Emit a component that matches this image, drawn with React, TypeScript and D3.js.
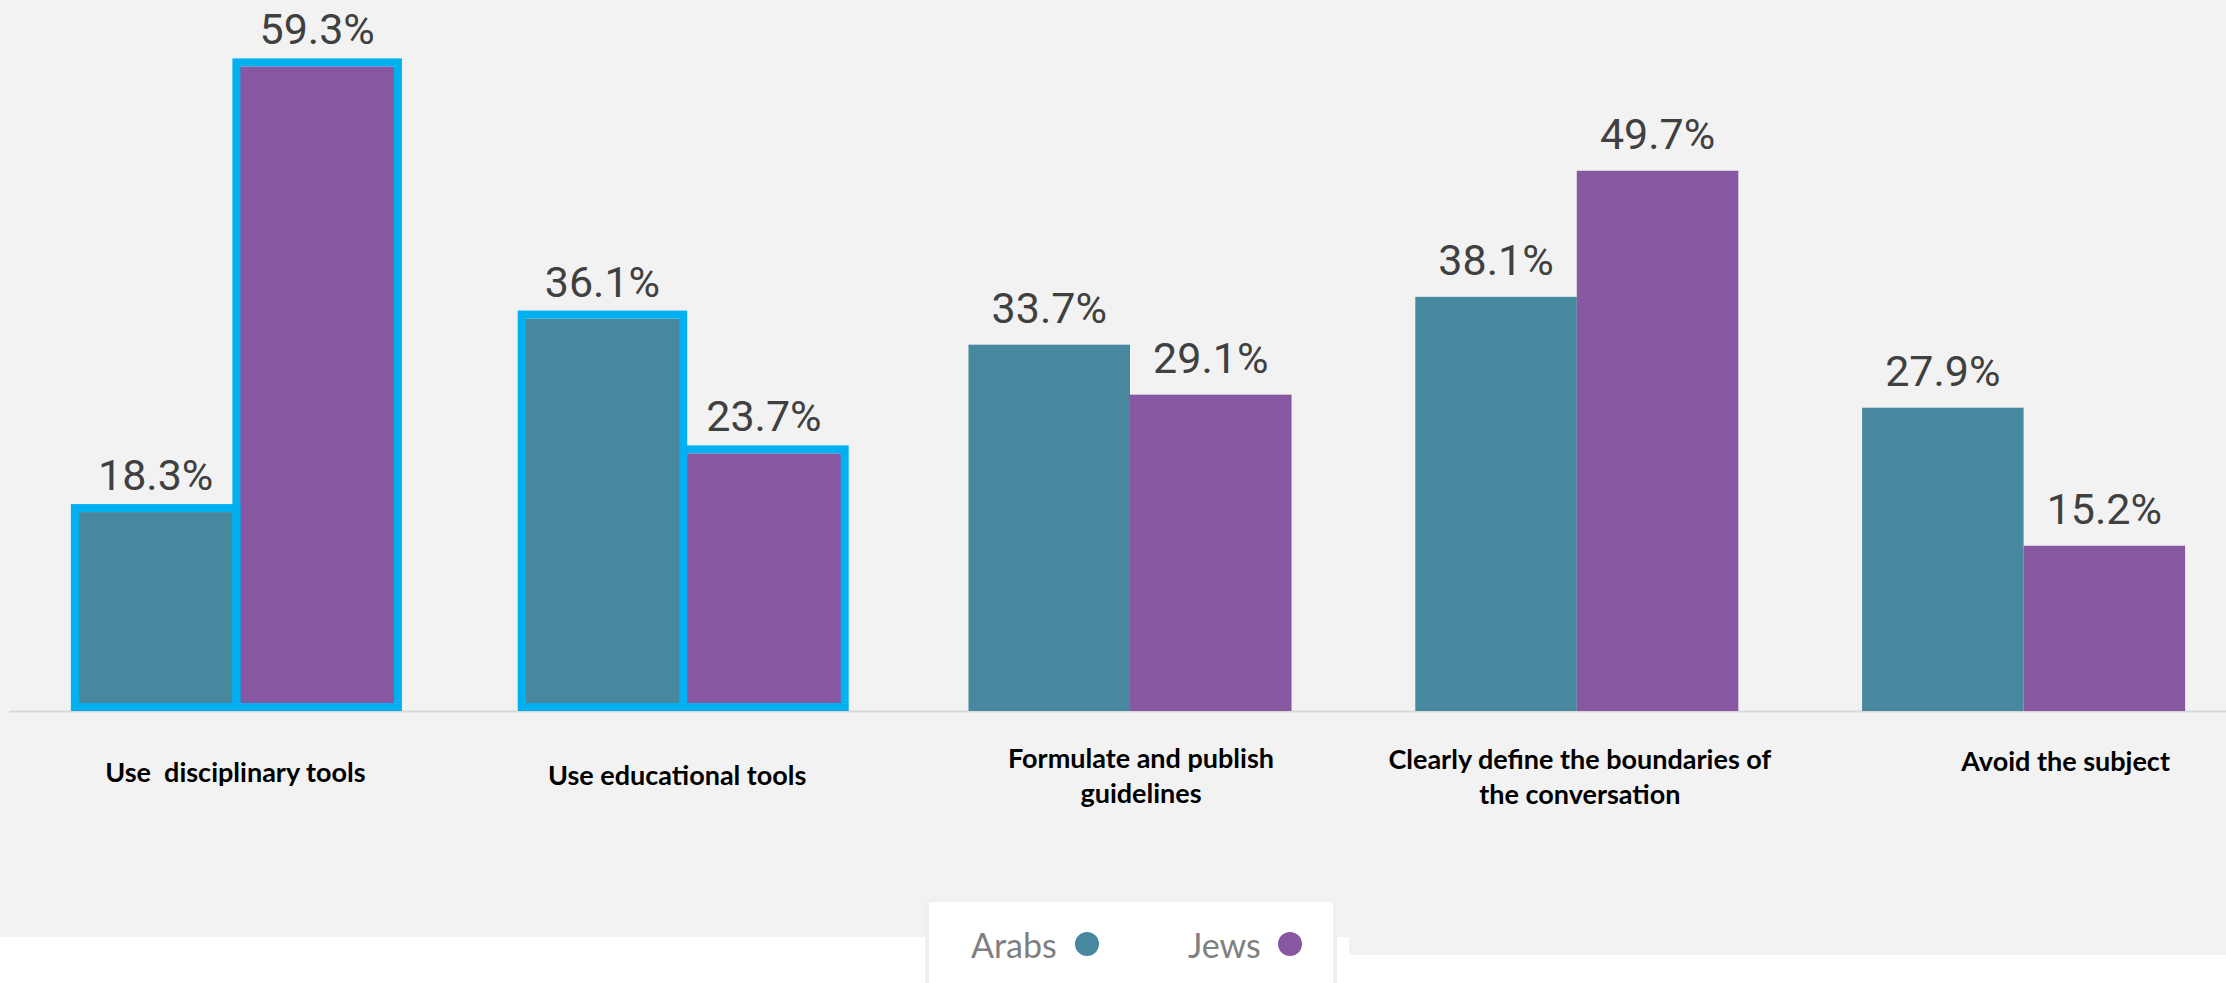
import React from "react";
import * as d3 from "d3";

const categories = [
  "Use  disciplinary tools",
  "Use educational tools",
  "Formulate and publish guidelines",
  "Clearly define the boundaries of the conversation",
  "Avoid the subject",
];
const categoryLines = [
  ["Use  disciplinary tools"],
  ["Use educational tools"],
  ["Formulate and publish", "guidelines"],
  ["Clearly define the boundaries of", "the conversation"],
  ["Avoid the subject"],
];
const seriesNames = ["Arabs", "Jews"];
const arabs = [18.3, 36.1, 33.7, 38.1, 27.9];
const jews = [59.3, 23.7, 29.1, 49.7, 15.2];
const highlighted = [true, true, false, false, false];

const W = 2226;
const H = 983;
const BASE = 711;
const COLORS = ["#47889f", "#8757a1"];
const HILITE = "#00b0f0";
const labelDx = [-1, -6, 11, 3, 42];
const labelBase = [782, 785, 768, 769, 771];

export default function App() {
  const x0 = d3
    .scaleBand<string>()
    .domain(categories)
    .range([13, 2247])
    .paddingInner(0.277)
    .paddingOuter(0.1385);
  const x1 = d3
    .scaleBand<string>()
    .domain(seriesNames)
    .range([0, x0.bandwidth()])
    .padding(0);
  const y = d3.scaleLinear().domain([0, 60]).range([BASE, BASE - 60 * 10.87]);
  const series = [arabs, jews];

  return (
    <div style={{ position: "absolute", left: 0, top: 0 }}>
      <svg width={W} height={H} style={{ display: "block" }}>
        <rect x={0} y={0} width={W} height={H} fill="#ffffff" />
        <rect x={0} y={0} width={1349} height={937} fill="#f2f2f2" />
        <rect x={1349} y={0} width={W - 1349} height={955} fill="#f2f2f2" />
        <line x1={9} x2={W} y1={BASE + 0.5} y2={BASE + 0.5} stroke="#d9d9d9" strokeWidth={2} />
        {categories.map((c, i) => (
          <g key={c} transform={`translate(${x0(c)},0)`}>
            {series.map((vals, s) => {
              const v = vals[i];
              const bx = x1(seriesNames[s])!;
              const top = y(v);
              return (
                <g key={s}>
                  <rect
                    x={bx}
                    y={top}
                    width={x1.bandwidth()}
                    height={BASE - top}
                    fill={COLORS[s]}
                  />
                  <text
                    x={bx + x1.bandwidth() / 2}
                    y={top - 22}
                    textAnchor="middle"
                    fontFamily="Roboto"
                    fontSize={43}
                    fill="#404040"
                  >
                    {v.toFixed(1)}%
                  </text>
                </g>
              );
            })}
            {highlighted[i] &&
              series.map((vals, s) => {
                const top = y(vals[i]);
                return (
                  <rect
                    key={"h" + s}
                    x={x1(seriesNames[s])!}
                    y={top - 4}
                    width={x1.bandwidth()}
                    height={BASE - top}
                    fill="none"
                    stroke={HILITE}
                    strokeWidth={8}
                  />
                );
              })}
          </g>
        ))}
        {categoryLines.map((lines, i) => {
          const cx = x0(categories[i])! + x0.bandwidth() / 2 + labelDx[i];
          return (
            <text
              key={i}
              x={cx}
              y={labelBase[i]}
              textAnchor="middle"
              fontFamily="Lato"
              fontWeight={700}
              fontSize={27}
              fill="#000000"
              style={{ whiteSpace: "pre" }}
            >
              {lines.map((l, k) => (
                <tspan key={k} x={cx} dy={k === 0 ? 0 : 35}>
                  {l}
                </tspan>
              ))}
            </text>
          );
        })}
        <rect x={927} y={900} width={408} height={100} fill="#ffffff" stroke="#f0f0f0" strokeWidth={4} />
        {seriesNames.map((n, s) => (
          <g key={n}>
            <text x={[971, 1188][s]} y={958} fontFamily="Lato" fontSize={34} fill="#7f7f7f">
              {n}
            </text>
            <circle cx={[1087, 1290][s]} cy={944} r={12} fill={COLORS[s]} />
          </g>
        ))}
      </svg>
    </div>
  );
}
